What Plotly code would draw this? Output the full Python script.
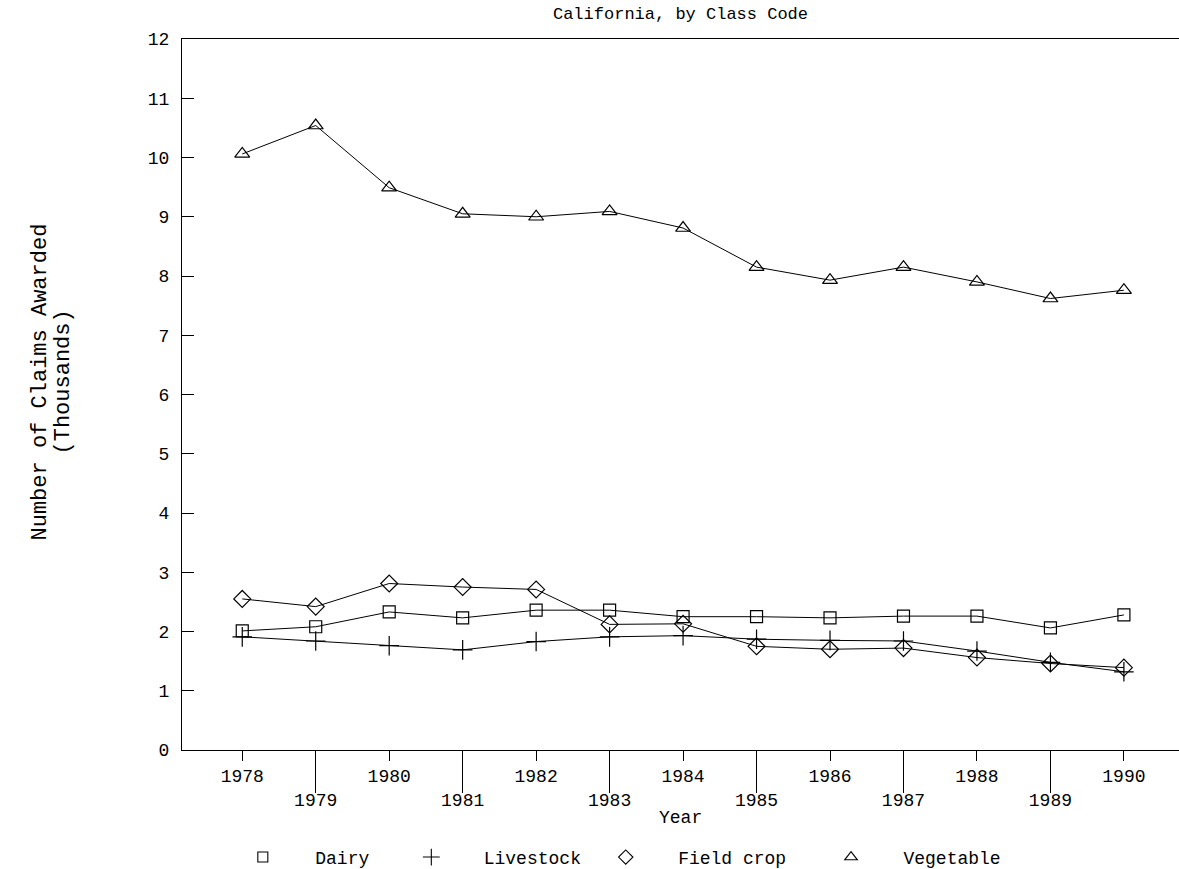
import plotly.graph_objects as go

# Workers' compensation claims awarded in California, thousands, by class code
years = [1978, 1979, 1980, 1981, 1982, 1983, 1984, 1985, 1986, 1987, 1988, 1989, 1990]
dairy = [2.01, 2.08, 2.33, 2.23, 2.36, 2.36, 2.25, 2.25, 2.23, 2.26, 2.26, 2.06, 2.28]
livestock = [1.91, 1.84, 1.76, 1.69, 1.83, 1.91, 1.93, 1.87, 1.85, 1.84, 1.67, 1.48, 1.32]
field_crop = [2.55, 2.42, 2.81, 2.75, 2.71, 2.12, 2.13, 1.75, 1.70, 1.72, 1.56, 1.46, 1.39]
vegetable = [10.06, 10.54, 9.49, 9.05, 9.0, 9.09, 8.81, 8.15, 7.93, 8.15, 7.9, 7.62, 7.76]

even_years = [y for y in years if y % 2 == 0]
odd_years = [y for y in years if y % 2 == 1]
y_ticks = list(range(0, 13))

FONT = "Liberation Mono, DejaVu Sans Mono, monospace"
INK = "black"

series = [
    ("Dairy", dairy, "square-open", 12),
    ("Livestock", livestock, "cross-thin-open", 14),
    ("Field crop", field_crop, "diamond-open", 13),
    ("Vegetable", vegetable, "triangle-up-open", 13),
]

fig = go.Figure()
for name, vals, sym, size in series:
    fig.add_trace(go.Scatter(
        x=years, y=vals, mode="lines+markers", name=name, showlegend=False,
        line=dict(color=INK, width=1),
        marker=dict(symbol=sym, size=size, color=INK, line=dict(color=INK, width=1.2)),
        xaxis="x", yaxis="y",
    ))

# one legend per series so each key sits at its own spot along the bottom
legend_x = [0.061, 0.230, 0.425, 0.651]
pad = "\u00a0" * 3
for i, (name, vals, sym, size) in enumerate(series):
    key = "legend" if i == 0 else f"legend{i + 1}"
    fig.add_trace(go.Scatter(
        x=[None], y=[None], mode="markers", name=pad + name, legend=key,
        marker=dict(symbol=sym, size=size - 2, color=INK, line=dict(color=INK, width=1.1)),
        xaxis="x2", yaxis="y",
    ))

legend_style = dict(
    orientation="h", xanchor="left", yanchor="middle", y=-0.151,
    bgcolor="rgba(0,0,0,0)", borderwidth=0,
    font=dict(family=FONT, size=18, color=INK),
)
layout_legends = {}
for i, lx in enumerate(legend_x):
    key = "legend" if i == 0 else f"legend{i + 1}"
    layout_legends[key] = dict(legend_style, x=lx)

x_range = [1977.18, 1990.75]

y_title_lines = ["Number of Claims Awarded", "(Thousands)"]
y_title_shift = [-142, -119]

annotations = [
    dict(text=line, textangle=-90, xref="paper", yref="paper", x=0, y=0.5,
         xanchor="center", yanchor="middle", xshift=shift, yshift=12, showarrow=False,
         font=dict(family=FONT, size=22, color=INK))
    for line, shift in zip(y_title_lines, y_title_shift)
]
annotations.append(
    dict(text="Year", xref="paper", yref="paper", x=0.5, y=0, xanchor="center",
         yanchor="middle", yshift=-68, showarrow=False,
         font=dict(family=FONT, size=18, color=INK))
)

fig.update_layout(
    width=1179, height=869,
    margin=dict(l=182, r=0, t=39, b=119, autoexpand=False),
    paper_bgcolor="white", plot_bgcolor="white",
    font=dict(family=FONT, size=18, color=INK),
    title=dict(
        text="California, by Class Code", x=0.5, xref="paper", xanchor="center",
        y=1 - 13 / 869, yref="container", yanchor="middle",
        font=dict(family=FONT, size=17, color=INK),
    ),
    xaxis=dict(
        range=x_range, tickmode="array", tickvals=even_years,
        ticktext=[str(y) for y in even_years],
        ticks="outside", ticklen=10, tickwidth=1, tickcolor=INK,
        showline=True, linecolor=INK, linewidth=1, mirror=True,
        showgrid=False, zeroline=False, ticklabelstandoff=-1,
        tickfont=dict(family=FONT, size=18, color=INK),
    ),
    xaxis2=dict(
        range=x_range, overlaying="x", anchor="y", side="bottom",
        tickmode="array", tickvals=odd_years, ticktext=[str(y) for y in odd_years],
        ticks="outside", ticklen=42, tickwidth=1, tickcolor=INK,
        showline=False, showgrid=False, zeroline=False, ticklabelstandoff=-9,
        tickfont=dict(family=FONT, size=18, color=INK),
    ),
    yaxis=dict(
        range=[0, 12], tickmode="array", tickvals=y_ticks,
        ticks="inside", ticklen=12, tickwidth=1, tickcolor=INK,
        showline=True, linecolor=INK, linewidth=1, mirror=False,
        showgrid=False, zeroline=False, ticklabelstandoff=8,
        tickfont=dict(family=FONT, size=18, color=INK),
    ),
    annotations=annotations,
    **layout_legends,
)

fig.write_html("out.html")
